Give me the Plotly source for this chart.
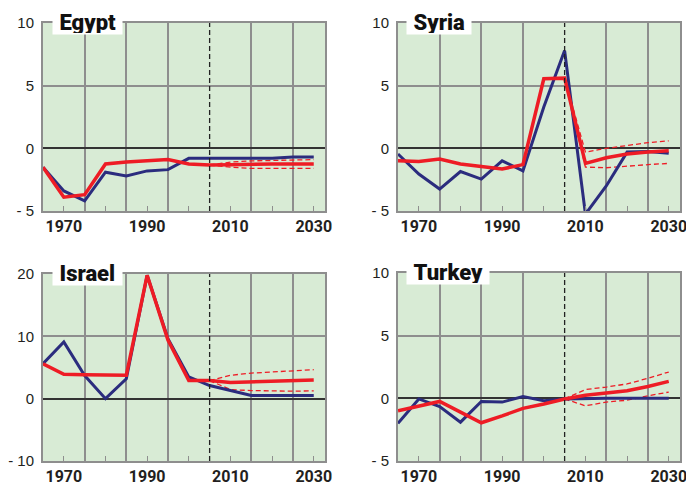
import plotly.graph_objects as go

years = [1965, 1970, 1975, 1980, 1985, 1990, 1995, 2000, 2005, 2010, 2015, 2020, 2025, 2030]
proj_years = [2005, 2010, 2015, 2020, 2025, 2030]
divider_year = 2005

egypt_blue = [-1.5, -3.4, -4.2, -1.9, -2.2, -1.8, -1.7, -0.8, -0.8, -0.8, -0.8, -0.8, -0.7, -0.7]
egypt_red = [-1.5, -3.9, -3.7, -1.25, -1.1, -1.0, -0.9, -1.25, -1.33, -1.3, -1.25, -1.25, -1.25, -1.25]
egypt_hi = [-1.33, -1.1, -1.0, -0.95, -0.9, -0.9]
egypt_lo = [-1.33, -1.5, -1.6, -1.6, -1.6, -1.6]

syria_blue = [-0.45, -2.05, -3.25, -1.85, -2.45, -1.0, -1.8, 3.3, 7.8, -5.25, -3.0, -0.3, -0.25, -0.4]
syria_red = [-1.0, -1.05, -0.85, -1.25, -1.45, -1.65, -1.3, 5.55, 5.6, -1.2, -0.75, -0.45, -0.3, -0.2]
syria_hi = [5.6, -0.3, 0.0, 0.25, 0.45, 0.6]
syria_lo = [5.6, -1.5, -1.55, -1.4, -1.3, -1.2]

israel_blue = [5.6, 9.1, 3.7, 0.0, 3.2, 19.8, 9.6, 3.5, 2.1, 1.3, 0.5, 0.5, 0.5, 0.5]
israel_red = [5.6, 3.9, 3.85, 3.8, 3.75, 19.8, 9.4, 2.9, 2.9, 2.6, 2.7, 2.8, 3.0, 3.0]
israel_hi = [2.9, 3.75, 4.1, 4.3, 4.5, 4.65]
israel_lo = [2.9, 1.45, 1.3, 1.2, 1.2, 1.25]

turkey_blue = [-2.0, -0.05, -0.65, -1.9, -0.25, -0.3, 0.15, -0.2, -0.05, 0.0, 0.0, 0.0, 0.0, 0.0]
turkey_red = [-1.0, -0.65, -0.25, -1.1, -1.95, -1.4, -0.8, -0.45, -0.05, 0.25, 0.45, 0.6, 0.95, 1.35]
turkey_hi = [-0.05, 0.7, 0.9, 1.15, 1.6, 2.1]
turkey_lo = [-0.05, -0.6, -0.3, -0.15, 0.2, 0.5]

panels = [
    ("Egypt", egypt_blue, egypt_red, egypt_hi, egypt_lo, [-5, 10], [-5, 0, 5, 10], ["- 5", "0", "5", "10"]),
    ("Syria", syria_blue, syria_red, syria_hi, syria_lo, [-5, 10], [-5, 0, 5, 10], ["- 5", "0", "5", "10"]),
    ("Israel", israel_blue, israel_red, israel_hi, israel_lo, [-10, 20], [-10, 0, 10, 20], ["- 10", "0", "10", "20"]),
    ("Turkey", turkey_blue, turkey_red, turkey_hi, turkey_lo, [-5, 10], [-5, 0, 5, 10], ["- 5", "0", "5", "10"]),
]

W, H = 686, 485
xdoms = [[43 / W, 325 / W], [398 / W, 680 / W], [43 / W, 325 / W], [398 / W, 680 / W]]
ydoms = [[1 - 211 / H, 1 - 23 / H], [1 - 211 / H, 1 - 23 / H], [1 - 461 / H, 1 - 274 / H], [1 - 461 / H, 1 - 273 / H]]
title_x = [0.032, 0.028, 0.032, 0.028]

BLUE = "#2b2c7e"
RED = "#ee1c25"
BG = "#d8ebd5"
GRID = "#8e8e8e"
TITLE_FONT = "Roboto, Liberation Sans, sans-serif"

xtickvals = [1970, 1980, 1990, 2000, 2010, 2020, 2030]
xticktext = ["1970", "", "1990", "", "2010", "", "2030"]
xgrid = [1975, 1985, 1995, 2015, 2025]

fig = go.Figure()
layout = dict(
    width=W, height=H, margin=dict(l=0, r=0, t=0, b=0),
    paper_bgcolor="white", plot_bgcolor=BG, showlegend=False,
    font=dict(family="Liberation Sans, sans-serif", color="#231f20"),
)
annotations = []
shapes = []
for i, (name, blue, red, hi, lo, yr, ytv, ytt) in enumerate(panels):
    n = i + 1
    xa = "x" if n == 1 else f"x{n}"
    ya = "y" if n == 1 else f"y{n}"
    fig.add_trace(go.Scatter(x=proj_years, y=hi, mode="lines", line=dict(color=RED, width=1.3, dash="5px,3px"), xaxis=xa, yaxis=ya))
    fig.add_trace(go.Scatter(x=proj_years, y=lo, mode="lines", line=dict(color=RED, width=1.3, dash="5px,3px"), xaxis=xa, yaxis=ya))
    fig.add_trace(go.Scatter(x=years, y=blue, mode="lines", line=dict(color=BLUE, width=3), xaxis=xa, yaxis=ya))
    fig.add_trace(go.Scatter(x=years, y=red, mode="lines", line=dict(color=RED, width=3.5), xaxis=xa, yaxis=ya))
    layout[f"xaxis{'' if n == 1 else n}"] = dict(
        domain=xdoms[i], anchor=ya, range=[1965, 2032.7], automargin=False,
        tickvals=xtickvals, ticktext=xticktext, ticks="inside", ticklen=5, tickwidth=1.3, tickcolor=GRID,
        showgrid=False, zeroline=False,
        showline=True, mirror=True, linecolor=GRID, linewidth=2,
        minor=dict(tickvals=xgrid, showgrid=True, gridcolor=GRID, gridwidth=2, ticks=""),
        tickfont=dict(family=TITLE_FONT, size=16, color="#231f20", weight="bold"),
        ticklabelstandoff=0, ticklabeloverflow="allow",
    )
    layout[f"yaxis{'' if n == 1 else n}"] = dict(
        domain=ydoms[i], anchor=xa, range=yr, automargin=False,
        tickvals=ytv, ticktext=ytt, ticks="",
        showgrid=True, gridcolor=GRID, gridwidth=1.5,
        zeroline=True, zerolinecolor="#333333", zerolinewidth=1.5,
        showline=True, mirror=True, linecolor=GRID, linewidth=2,
        tickfont=dict(family="Liberation Sans, sans-serif", size=15, color="#231f20"),
        ticklabelstandoff=4,
    )
    shapes.append(dict(type="line", xref=xa, yref=f"{ya} domain", x0=divider_year, x1=divider_year, y0=0, y1=1,
                       line=dict(color="#222222", width=1.3, dash="5px,3px"), layer="above"))
    annotations.append(dict(
        text=f"\u00a0{name}\u00a0", xref=f"{xa} domain", yref=f"{ya} domain",
        x=title_x[i], y=1.0, xanchor="left", yanchor="middle", yshift=1, showarrow=False,
        bgcolor="white", borderpad=1, height=22,
        font=dict(family=TITLE_FONT, size=22, color="#111111", weight=900),
    ))

layout["annotations"] = annotations
layout["shapes"] = shapes
fig.update_layout(**layout)
fig.write_html("out.html", config={"displayModeBar": False},
               post_script="document.body.style.margin='0';document.body.style.padding='0';")
